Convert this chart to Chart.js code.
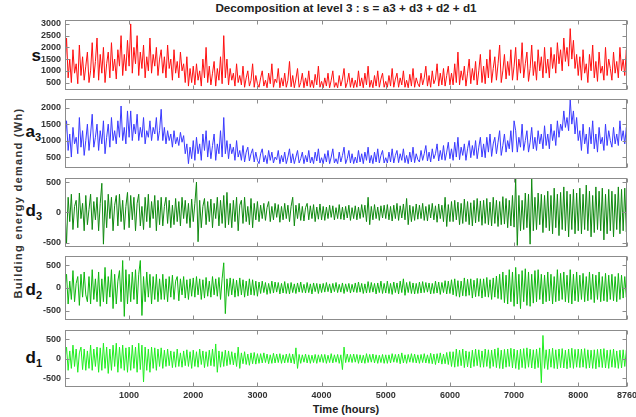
<!DOCTYPE html>
<html><head><meta charset="utf-8">
<script src="https://cdn.jsdelivr.net/npm/chart.js@4.4.1/dist/chart.umd.min.js"></script>
<style>
html,body{margin:0;padding:0;background:#fff;width:636px;height:417px;overflow:hidden;font-family:"Liberation Sans",Arial,sans-serif;}
canvas{position:absolute;left:0;}
.t{position:absolute;font-weight:bold;color:#222;white-space:nowrap;line-height:1;}
.pl{position:absolute;font-weight:bold;color:#111;font-size:17px;line-height:1;text-align:right;white-space:nowrap;}
.pl sub{font-size:11px;vertical-align:-4px;}
</style></head><body>
<div class="t" style="left:65px;width:562px;text-align:center;top:2px;font-size:11.7px;">Decomposition at level 3 : s = a3 + d3 + d2 + d1</div>
<div class="t" style="left:18px;top:203px;font-size:11px;letter-spacing:1.3px;color:#333;transform:translate(-50%,-50%) rotate(-90deg);">Building energy demand (Wh)</div>
<div class="t" style="left:65px;width:562px;text-align:center;top:404px;font-size:11px;">Time (hours)</div>
<div class="pl" style="right:595px;top:47px;">s</div>
<div class="pl" style="right:595px;top:123px;">a<sub>3</sub></div>
<div class="pl" style="right:594px;top:202px;">d<sub>3</sub></div>
<div class="pl" style="right:594px;top:281px;">d<sub>2</sub></div>
<div class="pl" style="right:594px;top:349px;">d<sub>1</sub></div>
<canvas id="c0"></canvas><canvas id="c1"></canvas><canvas id="c2"></canvas><canvas id="c3"></canvas><canvas id="c4"></canvas>
<script>
const hours = [1,
25,50,75,100,125,150,175,200,225,250,275,300,325,350,375,400,425,450,475,500,
525,550,575,600,625,650,675,700,725,750,775,800,825,850,875,900,925,950,975,1000,
1025,1050,1075,1100,1125,1150,1175,1200,1225,1250,1275,1300,1325,1350,1375,1400,1425,1450,1475,1500,
1525,1550,1575,1600,1625,1650,1675,1700,1725,1750,1775,1800,1825,1850,1875,1900,1925,1950,1975,2000,
2025,2050,2075,2100,2125,2150,2175,2200,2225,2250,2275,2300,2325,2350,2375,2400,2425,2450,2475,2500,
2525,2550,2575,2600,2625,2650,2675,2700,2725,2750,2775,2800,2825,2850,2875,2900,2925,2950,2975,3000,
3025,3050,3075,3100,3125,3150,3175,3200,3225,3250,3275,3300,3325,3350,3375,3400,3425,3450,3475,3500,
3525,3550,3575,3600,3625,3650,3675,3700,3725,3750,3775,3800,3825,3850,3875,3900,3925,3950,3975,4000,
4025,4050,4075,4100,4125,4150,4175,4200,4225,4250,4275,4300,4325,4350,4375,4400,4425,4450,4475,4500,
4525,4550,4575,4600,4625,4650,4675,4700,4725,4750,4775,4800,4825,4850,4875,4900,4925,4950,4975,5000,
5025,5050,5075,5100,5125,5150,5175,5200,5225,5250,5275,5300,5325,5350,5375,5400,5425,5450,5475,5500,
5525,5550,5575,5600,5625,5650,5675,5700,5725,5750,5775,5800,5825,5850,5875,5900,5925,5950,5975,6000,
6025,6050,6075,6100,6125,6150,6175,6200,6225,6250,6275,6300,6325,6350,6375,6400,6425,6450,6475,6500,
6525,6550,6575,6600,6625,6650,6675,6700,6725,6750,6775,6800,6825,6850,6875,6900,6925,6950,6975,7000,
7025,7050,7075,7100,7125,7150,7175,7200,7225,7250,7275,7300,7325,7350,7375,7400,7425,7450,7475,7500,
7525,7550,7575,7600,7625,7650,7675,7700,7725,7750,7775,7800,7825,7850,7875,7900,7925,7950,7975,8000,
8025,8050,8075,8100,8125,8150,8175,8200,8225,8250,8275,8300,8325,8350,8375,8400,8425,8450,8475,8500,
8525,8550,8575,8600,8625,8650,8675,8700,8725,8750,
8760];

const sSignal = [1100,
2400,700,1500,500,1900,900,1300,450,2100,800,1600,600,1200,1800,500,1000,2200,700,1400,2400,
600,1700,900,2000,500,1300,1800,700,2200,1000,1500,650,1900,1200,2500,800,1700,1000,2300,1200,
3000,900,2000,1300,2500,800,1800,1100,2100,700,1600,1000,2400,900,1700,1200,2000,800,1500,1900,
900,1600,700,2100,1100,1500,600,1900,900,1400,700,1800,1000,1300,500,1600,350,1100,500,1200,
400,1300,600,1000,350,1500,700,2000,500,1200,400,900,1400,350,1100,600,1600,450,2500,700,
1500,400,1100,600,900,350,1300,500,800,400,1200,300,700,1000,350,600,1300,300,800,450,
300,700,1000,350,600,280,900,450,1300,300,650,500,1100,280,700,350,900,300,600,1400,
320,800,280,650,1100,300,500,900,280,700,350,1000,300,600,280,850,400,1200,300,550,
280,700,350,900,280,600,1000,300,500,280,800,350,650,1100,280,500,900,300,700,280,
600,300,1000,350,700,280,900,400,1200,300,600,280,800,350,1000,300,650,900,300,550,
300,800,350,1100,300,650,900,300,700,400,1000,300,600,280,850,350,1100,300,700,450,
320,900,400,700,1200,350,800,300,1000,450,650,1300,350,900,400,1100,350,800,1200,400,
900,400,1300,500,1800,400,1000,600,1200,350,900,1500,450,1100,600,1400,400,1000,1700,500,
1200,450,1500,700,1900,500,1100,1600,600,1300,2100,500,1000,1700,650,1400,800,1900,600,1200,
2000,600,1500,900,2200,700,1300,1800,550,1100,2100,800,1400,600,1900,1000,1600,700,2000,900,
1500,700,2000,1100,1700,900,2200,1300,1900,1000,2400,1400,2000,1200,2800,1500,2300,1100,1700,800,
1600,600,1900,900,1300,500,1700,1000,2100,700,1400,550,1800,900,1200,600,2000,800,1500,1100,
600,1800,900,1400,700,2000,1000,1500,800,1900,
1100];

const a3Approx = [1000,
1600,700,1200,500,1400,900,1100,600,1700,800,1300,550,1000,1500,700,1200,1800,800,1100,1500,
700,1300,900,1600,600,1100,1500,800,1700,1000,1300,900,1600,1100,2050,1000,1400,900,1900,1100,
1900,1000,1500,1200,1800,1000,1400,1100,1700,900,1300,1100,1600,1000,1400,1200,1700,1000,1300,1950,
1000,1400,900,1300,1000,1200,800,1300,900,1100,850,1250,950,1150,600,900,300,800,450,1000,
400,1100,600,900,400,1200,700,1300,500,1000,450,850,1200,400,900,600,1300,500,1700,600,
1000,450,900,600,800,400,1000,500,700,400,850,350,650,800,380,600,750,350,650,400,
300,600,750,350,550,300,700,400,650,320,500,420,700,300,550,350,650,300,500,750,
320,600,300,500,700,320,450,650,300,550,350,700,320,500,300,650,380,750,320,480,
300,600,350,700,300,500,750,320,450,300,650,350,550,800,300,450,700,320,600,300,
500,320,700,350,600,300,650,400,800,320,550,300,650,350,750,320,550,700,320,480,
320,650,350,750,320,550,700,330,600,400,750,330,550,300,650,350,800,330,600,420,
350,700,400,600,850,380,650,350,750,450,600,900,380,700,420,850,400,650,950,450,
750,400,950,500,1100,420,800,550,900,400,750,1000,480,850,550,1000,450,800,1100,500,
900,480,1100,650,1200,520,900,1100,600,950,1300,550,850,1200,650,1000,750,1300,650,1600,
1300,650,1100,800,1500,700,1000,1300,650,950,1400,750,1100,700,1300,900,1200,750,1450,850,
1200,750,1500,1000,1300,850,1600,1100,1500,1300,1900,1400,1700,1300,2250,1500,1900,1200,1700,1000,
1300,700,1500,900,1200,600,1400,900,1600,750,1200,650,1400,900,1100,700,1500,850,1300,1000,
800,1400,900,1200,850,1600,1000,1300,900,1400,
1100];

const d3Detail = [0,
-500,250,-150,300,-280,100,200,-250,320,-100,150,-300,280,-200,50,300,-280,180,-120,250,
-300,150,480,-520,200,-250,300,-100,250,-300,120,280,-220,300,-150,200,-280,100,330,-250,
280,-120,250,-300,150,300,-220,100,-280,250,-150,300,-250,180,-100,280,-300,200,-200,250,
-220,100,250,-180,200,-250,120,-200,230,-150,180,-220,250,-100,200,-180,150,-250,220,-150,
150,500,-480,200,-250,100,230,-200,180,-150,220,-250,150,-100,250,-220,200,-180,280,-250,
330,-200,150,-250,200,-150,250,-300,120,200,-180,250,-150,100,-200,230,-250,150,-120,180,
-150,120,-100,150,-130,80,180,-150,100,-120,150,-80,130,-160,100,-120,150,-100,120,-150,
100,250,-220,120,-100,150,-130,100,-140,80,150,-120,110,-100,130,-150,90,-110,140,-120,
100,-130,90,-100,120,-80,110,-120,80,-100,130,-110,90,-120,100,-90,120,-130,80,-100,
110,-120,90,-100,130,-80,120,-150,250,-200,100,-120,130,-100,90,-130,110,-90,120,-100,
130,-120,100,-140,120,-100,150,-130,110,-90,140,-120,230,-200,120,-150,100,-130,140,-110,
120,-100,150,-130,100,-140,130,-90,150,-120,110,-160,140,-100,120,-150,250,-230,130,-150,
180,-150,200,-120,170,-200,150,-180,220,-150,180,-200,160,-220,200,-170,230,-150,190,-210,
200,-180,230,-200,170,-220,250,-180,200,-230,180,-200,260,-190,230,-250,200,-220,280,-240,
550,-540,280,-300,200,-280,320,-250,300,-520,550,-300,250,-280,320,-200,300,-330,280,-250,
350,-300,280,-350,400,-250,300,-380,330,-280,420,-300,350,-400,300,-280,380,-350,320,-300,
400,-350,300,-280,450,-300,350,-400,280,-330,420,-280,350,-300,400,-450,300,-350,380,-300,
350,-400,300,-280,420,-350,380,-300,400,-320,
0];

const d2Detail = [0,
300,-350,150,-250,380,-300,100,250,-380,300,-200,350,-150,-300,250,-350,400,-250,200,-300,
350,-400,200,-300,450,-350,250,-200,400,-450,300,-350,150,380,-300,600,-620,400,-350,300,
-300,350,-250,400,-350,300,600,-600,250,-300,350,-200,300,-350,250,-250,300,-300,200,-250,
300,-250,200,-300,250,-200,280,-250,150,250,-280,200,-150,250,-220,180,-250,200,-180,220,
-200,250,-150,200,-250,180,-220,230,-180,150,-200,250,-150,200,-180,230,-250,200,550,-560,
200,-180,220,-150,200,-200,170,-180,220,-150,180,-200,150,-170,200,-150,180,-160,150,-180,
130,-120,150,-100,120,-140,100,-120,150,-110,130,-90,120,-130,100,-110,140,-120,100,-130,
120,-100,90,-120,110,-90,130,-100,80,-110,120,-100,90,-130,110,-80,100,-120,90,-100,
100,-90,120,-80,90,-110,100,-80,120,-100,80,-90,110,-120,90,-80,100,-110,80,-90,
110,-100,130,-90,100,-120,90,-110,140,-100,120,-90,100,-130,110,-100,150,-120,100,-110,
150,-120,100,-140,130,-100,110,-130,150,-100,200,-160,120,-100,140,-120,110,-130,100,-120,
130,-110,140,-100,120,-90,110,-130,100,-120,150,-110,130,-140,120,-100,160,-130,150,-120,
180,-150,200,-180,160,-200,150,-170,220,-180,190,-160,200,-220,170,-190,210,-180,200,-220,
200,-190,230,-200,180,-250,220,-200,260,-230,300,-250,350,-320,280,-350,400,-300,350,-400,
450,-350,300,-450,380,-300,420,-380,350,-400,300,-330,380,-300,400,-250,300,-350,280,-300,
350,-280,300,-350,250,-300,400,-280,320,-250,350,-300,280,-320,400,-350,300,-280,350,-300,
280,-250,320,-300,250,-280,350,-250,300,-320,280,-250,350,-300,250,-280,320,-300,280,-250,
300,-280,250,-300,320,-250,280,-220,250,-200,
0];

const d1Detail = [0,
300,-300,200,-250,350,-200,250,-350,150,300,-280,250,-300,200,-250,350,-300,250,-200,300,
-350,280,-300,400,-250,300,-380,250,-300,350,-200,400,-350,300,-250,350,-300,280,-350,300,
-300,350,-250,300,-350,400,-280,350,-600,300,-300,250,-350,300,-250,280,-300,250,-200,280,
-250,220,-200,250,-180,200,-230,180,-220,250,-200,150,-220,200,-180,230,-200,180,-250,220,
-200,180,-220,250,-150,200,-230,180,-200,220,-180,250,-200,380,-350,200,-220,180,-200,220,
-180,200,-150,180,-160,150,-200,300,-250,150,-130,180,-150,120,-170,150,-130,160,-140,130,
-120,130,-110,150,-100,120,-130,100,-120,140,-110,120,-100,130,-120,100,-110,120,-100,130,
-110,120,-130,280,-250,110,-120,100,-90,120,-110,100,-120,90,-100,110,-120,100,-90,110,
-100,110,-120,90,-100,130,-110,100,-90,110,-120,100,-280,300,-100,120,-90,110,-100,120,
-90,110,-120,100,-110,90,-120,130,-100,110,-90,120,-110,100,-120,90,-100,110,-120,100,
-120,100,-110,130,-90,110,-100,120,-130,150,-110,100,-120,110,-90,130,-100,120,-110,100,
-120,110,-100,130,-110,100,-120,140,-130,120,-150,130,-110,150,-140,120,-130,160,-150,180,
-200,180,-220,250,-200,220,-180,250,-230,200,-210,180,-240,220,-200,250,-180,230,-220,200,
-220,250,-200,230,-250,220,-200,250,-230,280,-250,220,-260,240,-220,250,-200,270,-240,250,
-250,220,-280,250,-230,260,-250,280,-220,250,-240,230,-260,250,-230,280,-620,600,-250,230,
-280,250,-220,270,-250,230,-260,250,-230,260,-240,220,-260,250,-230,270,-250,240,-220,250,
-230,250,-220,260,-250,230,-240,220,-250,230,-260,240,-220,250,-230,260,-240,220,-250,230,
-220,250,-230,200,-250,220,-240,230,-200,220,
0];

const xTicks = [1000,2000,3000,4000,5000,6000,7000,8000,8760];
const sTicks = [500,1000,1500,2000,2500,3000];
const a3Ticks = [500,1000,1500,2000];
const dTicks = [-500,0,500];

const panels = [
  {vals:sSignal,  color:'#ff1010', min:200,  max:3150, ticks:sTicks,  T:19,  B:91},
  {vals:a3Approx, color:'#3a3aff', min:180,  max:2250, ticks:a3Ticks, T:98,  B:169},
  {vals:d3Detail, color:'#108a10', min:-560, max:560,  ticks:dTicks,  T:177, B:248},
  {vals:d2Detail, color:'#10b810', min:-690, max:690,  ticks:dTicks,  T:255, B:321},
  {vals:d1Detail, color:'#20ee20', min:-730, max:730,  ticks:dTicks,  T:329, B:387}
];

const boxTicks = {
  id:'boxTicks',
  afterDraw(chart){
    const {ctx, chartArea:a, scales:{x,y}} = chart;
    ctx.save();
    ctx.strokeStyle = '#8c8c8c'; ctx.lineWidth = 1;
    const L = Math.round(a.left)+0.5, R = Math.round(a.right)-0.5, T = Math.round(a.top)+0.5, B = Math.round(a.bottom)-0.5;
    ctx.strokeRect(L, T, R-L, B-T);
    ctx.beginPath();
    x.ticks.forEach(t=>{
      const px = Math.round(x.getPixelForValue(t.value))+0.5;
      ctx.moveTo(px,T); ctx.lineTo(px,T+4);
      ctx.moveTo(px,B); ctx.lineTo(px,B-4);
    });
    y.ticks.forEach(t=>{
      const py = Math.round(y.getPixelForValue(t.value))+0.5;
      ctx.moveTo(L,py); ctx.lineTo(L+4,py);
      ctx.moveTo(R,py); ctx.lineTo(R-4,py);
    });
    ctx.stroke();
    ctx.restore();
  }
};

const CW = 660, PLOT_RIGHT = 627, PLOT_LEFT = 65, TOPPAD = 8;
const tickFont = {family:'"Liberation Sans", Arial, sans-serif', size:9, weight:'bold'};

panels.forEach((p, i) => {
  const last = i === panels.length - 1;
  const cv = document.getElementById('c'+i);
  const xH = last ? 16 : 0;
  const botPad = last ? 0 : 8;
  const h = TOPPAD + (p.B - p.T) + xH + botPad;
  cv.width = CW; cv.height = h;
  cv.style.top = (p.T - TOPPAD) + 'px';
  cv.style.width = CW + 'px'; cv.style.height = h + 'px';
  new Chart(cv, {
    type:'line',
    data:{datasets:[{
      data: hours.map((hr, k) => ({x:hr, y:p.vals[k]})),
      borderColor:p.color, borderWidth:1, pointRadius:0, tension:0, fill:false
    }]},
    options:{
      responsive:false, animation:false, devicePixelRatio:1,
      layout:{padding:{left:0, right:CW-PLOT_RIGHT, top:TOPPAD, bottom:botPad}},
      plugins:{legend:{display:false}, tooltip:{enabled:false}},
      scales:{
        x:{type:'linear', min:1, max:8760,
           grid:{display:false, drawTicks:false}, border:{display:false},
           afterBuildTicks: s => { s.ticks = xTicks.map(v => ({value:v})); },
           afterFit: s => { s.height = xH; },
           ticks:{display:last, autoSkip:false, maxRotation:0, padding:3, color:'#333', font:tickFont,
                  callback: v => String(v)}},
        y:{type:'linear', min:p.min, max:p.max,
           grid:{display:false, drawTicks:false}, border:{display:false},
           afterBuildTicks: s => { s.ticks = p.ticks.map(v => ({value:v})); },
           afterFit: s => { s.width = PLOT_LEFT; },
           ticks:{padding:4, color:'#333', font:tickFont, callback: v => String(v)}}
      }
    },
    plugins:[boxTicks]
  });
});
</script>
</body></html>
